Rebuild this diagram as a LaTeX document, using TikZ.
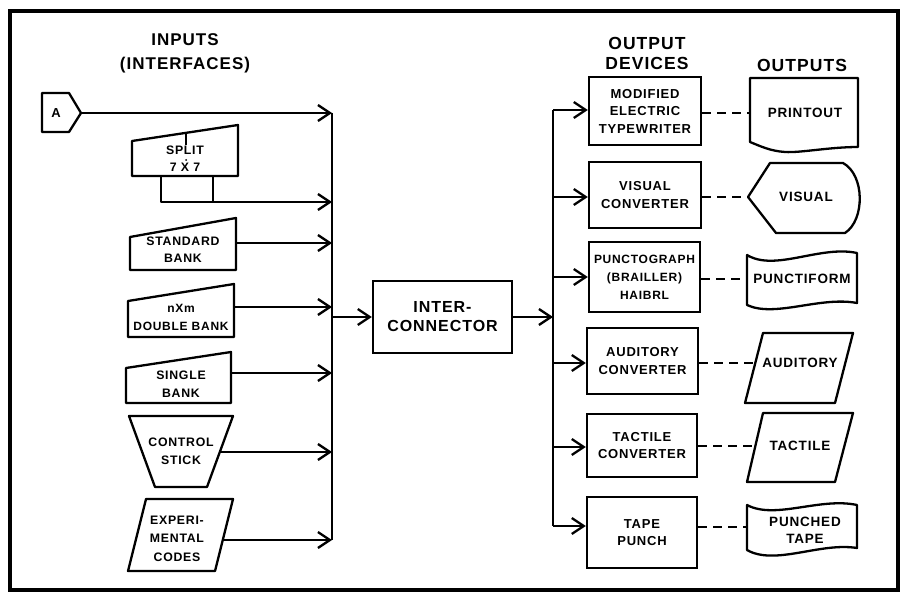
\documentclass[tikz,border=0pt]{standalone}
\usepackage{fontspec}
\setmainfont{Liberation Sans}[LetterSpace=6]
\usetikzlibrary{arrows.meta}
\newcommand\myinp{\bfseries\fontsize{12.3}{17}\selectfont}
\newcommand\myout{\bfseries\fontsize{13}{17.5}\selectfont}
\newcommand\myoshape{\bfseries\fontsize{13.5}{17}\selectfont}
\tikzset{
  shp/.style={line width=2.3pt, line join=round},
  conn/.style={line width=2.3pt, -{Straight Barb[length=12pt,width=16pt]}},
  dsh/.style={line width=2.3pt, dash pattern=on 9pt off 6pt},
  obox/.style={draw, line width=2.3pt, inner sep=0pt, align=center, font=\myout},
  txt/.style={inner sep=0pt, align=center, font=\myinp},
  otxt/.style={inner sep=0pt, align=center, font=\myoshape},
}
\begin{document}
\begin{tikzpicture}[x=1pt,y=-1pt]
\useasboundingbox (0,0) rectangle (904,601);
\draw[line width=3.2pt] (10,11) rectangle (898,590);

% headers
\node[inner sep=0pt, align=center, font=\bfseries\fontsize{17}{24}\selectfont] (hin) at (185,53) {INPUTS\\(INTERFACES)};
\node[inner sep=0pt, align=center, font=\bfseries\fontsize{17.5}{20}\selectfont] (hod) at (647,53) {OUTPUT\\DEVICES};
\node[inner sep=0pt, align=center, font=\bfseries\fontsize{17.5}{20}\selectfont] (hout) at (802,65) {OUTPUTS};

% input bus
\coordinate (b1) at (332,113);
\coordinate (b2) at (332,202);
\coordinate (b3) at (332,243);
\coordinate (b4) at (332,307);
\coordinate (bI) at (332,317);
\coordinate (b5) at (332,373);
\coordinate (b6) at (332,452);
\coordinate (b7) at (332,540);
\draw[shp] (b1) -- (b7);

% A
\draw[shp] (42,93) -- (69,93) -- (81,113) -- (69,132) -- (42,132) -- cycle;
\node[inner sep=0pt, font=\bfseries\fontsize{13}{15}\selectfont] (a) at (56,113) {A};
\coordinate (aR) at (81,113);
\draw[conn] (aR) -- (b1);

% split 7x7
\draw[shp] (132,141) -- (238,125) -- (238,176) -- (132,176) -- cycle;
\draw[shp] (161,176) -- (161,202) -- (213,202) -- (213,176);
\draw[line width=1.5pt] (186,133) -- (186,145);
\fill (186,160) circle (1pt);
\node[txt] (split) at (185,158.5) {SPLIT\\7 X 7};
\coordinate (spR) at (213,202);
\draw[conn] (spR) -- (b2);

% standard bank
\draw[shp] (130,237) -- (236,218) -- (236,270) -- (130,270) -- cycle;
\node[txt] (std) at (183,250) {STANDARD\\BANK};
\coordinate (stdR) at (236,243);
\draw[conn] (stdR) -- (b3);

% double bank
\draw[shp] (128,301) -- (234,284) -- (234,337) -- (128,337) -- cycle;
\node[txt, font=\bfseries\fontsize{12}{18}\selectfont] (dbl) at (181,317) {nXm\\DOUBLE BANK};
\coordinate (dblR) at (234,307);
\draw[conn] (dblR) -- (b4);

% single bank
\draw[shp] (126,368) -- (231,352) -- (231,403) -- (126,403) -- cycle;
\node[txt, font=\bfseries\fontsize{12.3}{18}\selectfont] (sgl) at (181,384) {SINGLE\\BANK};
\coordinate (sglR) at (231,373);
\draw[conn] (sglR) -- (b5);

% control stick
\draw[shp] (129,416) -- (233,416) -- (207,487) -- (155,487) -- cycle;
\node[txt, font=\bfseries\fontsize{12.3}{18}\selectfont] (ctl) at (181,451) {CONTROL\\STICK};
\coordinate (ctlR) at (221,452);
\draw[conn] (ctlR) -- (b6);

% experimental codes
\draw[shp] (146,499) -- (233,499) -- (215,571) -- (128,571) -- cycle;
\node[txt, font=\bfseries\fontsize{12.3}{18.5}\selectfont] (exp) at (177,538.5) {EXPERI-\\MENTAL\\CODES};
\coordinate (expR) at (223,540);
\draw[conn] (expR) -- (b7);

% interconnector
\node[draw, line width=2.3pt, inner sep=0pt, minimum width=139pt, minimum height=72pt, align=center, font=\bfseries\fontsize{16}{19}\selectfont] (ic) at (442.5,317) {INTER-\\CONNECTOR};
\draw[conn] (bI) -- (ic.west);
\coordinate (oI) at (553,317);
\draw[conn] (ic.east) -- (oI);

% output bus
\coordinate (o1) at (553,110);
\coordinate (o2) at (553,197);
\coordinate (o3) at (553,277);
\coordinate (o4) at (553,363);
\coordinate (o5) at (553,447);
\coordinate (o6) at (553,526);
\draw[shp] (o1) -- (o6);

% output devices
\node[obox, minimum width=112pt, minimum height=68pt] (typ) at (645,111) {MODIFIED\\ELECTRIC\\TYPEWRITER};
\node[obox, minimum width=112pt, minimum height=66pt] (vis) at (645,195) {VISUAL\\CONVERTER};
\node[obox, minimum width=111pt, minimum height=70pt, font=\bfseries\fontsize{12}{18}\selectfont] (pun) at (644.5,277) {PUNCTOGRAPH\\(BRAILLER)\\HAIBRL};
\node[obox, minimum width=111pt, minimum height=66pt] (aud) at (642.5,361) {AUDITORY\\CONVERTER};
\node[obox, minimum width=110pt, minimum height=63pt] (tac) at (642,445.5) {TACTILE\\CONVERTER};
\node[obox, minimum width=110pt, minimum height=71pt] (tap) at (642,532.5) {TAPE\\PUNCH};

\draw[conn] (o1) -- (o1 -| typ.west);
\draw[conn] (o2) -- (o2 -| vis.west);
\draw[conn] (o3) -- (o3 -| pun.west);
\draw[conn] (o4) -- (o4 -| aud.west);
\draw[conn] (o5) -- (o5 -| tac.west);
\draw[conn] (o6) -- (o6 -| tap.west);

% outputs: printout (document)
\draw[shp] (750,78) -- (858,78) -- (858,147) .. controls (830,147) and (800,153) .. (785,152) .. controls (770,151) and (760,146) .. (750,142) -- cycle;
\node[otxt] (prt) at (805,113) {PRINTOUT};
\coordinate (prtW) at (750,113);
\draw[dsh] (prtW -| typ.east) -- (prtW);

% visual (display)
\draw[shp] (748,197) -- (770,163) -- (843,163) .. controls (865,175) and (865,220) .. (845,233) -- (776,233) -- cycle;
\node[otxt] (vsl) at (806,197) {VISUAL};
\coordinate (visW) at (748,197);
\draw[dsh] (visW -| vis.east) -- (visW);

% punctiform (tape)
\draw[shp] (747,255) .. controls (775,272) and (820,245) .. (857,253) -- (857,303) .. controls (820,296) and (775,318) .. (747,305) -- cycle;
\node[otxt] (pnf) at (802,279) {PUNCTIFORM};
\coordinate (pnfW) at (747,279);
\draw[dsh] (pnfW -| pun.east) -- (pnfW);

% auditory (parallelogram)
\draw[shp] (763,333) -- (853,333) -- (835,403) -- (745,403) -- cycle;
\node[otxt] (audo) at (800,363) {AUDITORY};
\coordinate (audW) at (755,363);
\draw[dsh] (audW -| aud.east) -- (audW);

% tactile (parallelogram)
\draw[shp] (763,413) -- (853,413) -- (835,482) -- (747,482) -- cycle;
\node[otxt] (taco) at (800,446) {TACTILE};
\coordinate (tacW) at (755,446);
\draw[dsh] (tacW -| tac.east) -- (tacW);

% punched tape
\draw[shp] (747,505) .. controls (775,520) and (820,497) .. (857,505) -- (857,548) .. controls (820,542) and (775,566) .. (747,550) -- cycle;
\node[otxt] (pto) at (805,530) {PUNCHED\\TAPE};
\coordinate (ptW) at (747,527);
\draw[dsh] (ptW -| tap.east) -- (ptW);
\end{tikzpicture}
\end{document}
